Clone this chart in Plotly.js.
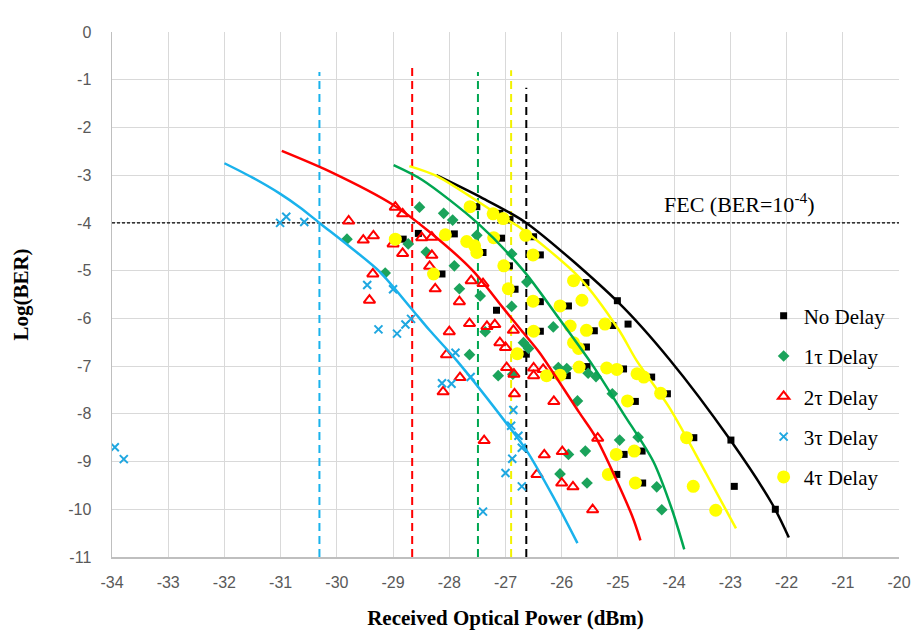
<!DOCTYPE html>
<html>
<head>
<meta charset="utf-8">
<script src="https://cdn.plot.ly/plotly-3.0.1.min.js"></script>
<style>html,body{margin:0;padding:0;background:#fff;}#chart{width:917px;height:636px;}</style>
</head>
<body>
<div id="chart"></div>
<script>
// ---- Measured data ----
const seriesNames = ["No Delay", "1\u03c4 Delay", "2\u03c4 Delay", "3\u03c4 Delay", "4\u03c4 Delay"];

const xTickVals = [-34,-33,-32,-31,-30,-29,-28,-27,-26,-25,-24,-23,-22,-21,-20];
const xTickText = ["-34","-33","-32","-31","-30","-29","-28","-27","-26","-25","-24","-23","-22","-21","-20"];
const yTickVals = [0,-1,-2,-3,-4,-5,-6,-7,-8,-9,-10,-11];
const yTickText = ["0","-1","-2","-3","-4","-5","-6","-7","-8","-9","-10","-11"];

const noDelayX = [-27.51,-27.10,-26.92,-28.55,-28.82,-27.91,-27.07,-26.50,-27.40,-26.38,-26.93,-28.13,-26.83,-27.16,-25.57,-26.38,-25.88,-25.01,-26.38,-25.09,-24.82,-25.42,-25.56,-26.63,-25.55,-25.90,-26.15,-24.90,-24.40,-24.12,-24.69,-23.65,-24.57,-24.89,-25.02,-24.56,-22.99,-22.93,-22.20];
const noDelayY = [-3.66,-3.80,-3.93,-4.22,-4.34,-4.23,-4.32,-4.29,-4.62,-4.67,-4.90,-5.07,-5.39,-5.83,-5.25,-5.65,-5.74,-5.63,-6.27,-6.15,-6.12,-6.26,-6.60,-6.75,-7.01,-7.20,-7.19,-7.06,-7.23,-7.58,-7.74,-8.50,-8.78,-8.85,-9.27,-9.45,-8.55,-9.52,-10.00];

const delay1X = [-29.82,-28.53,-28.10,-27.94,-28.73,-28.41,-27.51,-27.91,-29.14,-27.82,-26.89,-27.45,-26.62,-26.89,-27.36,-26.68,-27.64,-27.13,-26.87,-26.15,-26.59,-26.06,-25.91,-25.53,-25.39,-25.72,-25.10,-24.97,-24.64,-25.58,-25.88,-26.03,-25.55,-24.31,-24.22];
const delay1Y = [-4.34,-3.67,-3.80,-3.94,-4.44,-4.61,-4.26,-4.90,-5.05,-5.38,-4.65,-5.53,-5.24,-5.75,-6.28,-6.51,-6.76,-7.20,-7.17,-6.18,-6.63,-7.03,-7.05,-7.15,-7.22,-7.73,-7.58,-8.55,-8.49,-8.78,-8.85,-9.26,-9.45,-9.53,-10.01];

const delay2X = [-29.79,-29.53,-29.35,-28.96,-28.83,-29.00,-28.83,-28.49,-28.31,-28.31,-28.35,-28.25,-29.36,-29.42,-27.61,-27.40,-27.82,-27.64,-27.33,-27.19,-28.00,-26.86,-27.10,-27.00,-28.05,-27.81,-28.11,-26.98,-26.85,-26.84,-26.50,-26.50,-26.33,-26.14,-27.38,-25.36,-26.31,-25.99,-26.44,-26.00,-25.80,-25.45];
const delay2Y = [-3.96,-4.36,-4.27,-3.67,-3.81,-4.44,-4.64,-4.31,-4.30,-4.68,-4.91,-5.38,-5.07,-5.62,-5.21,-5.27,-5.65,-6.11,-6.17,-6.13,-6.28,-6.25,-6.51,-6.61,-6.76,-7.24,-7.54,-7.03,-7.17,-7.58,-7.04,-7.20,-7.07,-7.74,-8.56,-8.51,-8.86,-8.79,-9.27,-9.45,-9.53,-10.01];

const delay3X = [-31.01,-30.90,-30.58,-33.95,-33.79,-29.46,-29.00,-29.26,-28.93,-28.78,-28.68,-27.89,-28.13,-27.96,-27.62,-26.86,-26.90,-26.77,-26.71,-26.88,-27.00,-26.71,-27.40];
const delay3Y = [-4.00,-3.87,-3.98,-8.70,-8.95,-5.30,-5.39,-6.23,-6.32,-6.13,-6.01,-6.72,-7.36,-7.37,-7.23,-7.92,-8.25,-8.46,-8.71,-8.94,-9.24,-9.52,-10.05];

const delay4X = [-27.63,-27.22,-27.04,-28.96,-28.07,-27.69,-27.55,-27.51,-27.21,-26.64,-26.51,-27.03,-28.28,-26.95,-26.51,-26.50,-26.79,-25.79,-25.64,-26.03,-25.23,-25.56,-25.85,-25.79,-25.70,-25.69,-26.27,-26.03,-25.20,-25.02,-24.66,-24.54,-24.24,-24.83,-23.78,-25.03,-24.71,-25.17,-24.69,-23.66,-23.26];
const delay4Y = [-3.66,-3.81,-3.91,-4.34,-4.25,-4.39,-4.48,-4.62,-4.31,-4.26,-4.67,-4.90,-5.07,-5.38,-5.64,-6.27,-6.74,-5.21,-5.62,-5.74,-6.12,-6.25,-6.16,-6.51,-6.63,-7.02,-7.20,-7.19,-7.04,-7.07,-7.16,-7.23,-7.57,-7.73,-8.50,-8.85,-8.78,-9.27,-9.45,-9.52,-10.02];

// fitted trend curves
const fitNoDelayX = [-28.23,-27.46,-26.63,-24.98,-24.09,-23.00,-22.25,-21.96];
const fitNoDelayY = [-3.00,-3.45,-4.00,-5.68,-6.85,-8.55,-9.90,-10.59];
const fit1X = [-28.99,-28.48,-27.50,-26.68,-26.05,-25.44,-24.90,-24.37,-24.04,-23.82];
const fit1Y = [-2.79,-3.10,-4.00,-5.00,-6.00,-7.00,-8.00,-9.00,-10.00,-10.84];
const fit2X = [-30.98,-30.13,-29.00,-28.35,-27.59,-27.05,-26.72,-26.40,-25.69,-25.39,-24.75,-24.60];
const fit2Y = [-2.49,-2.92,-3.62,-4.19,-4.99,-5.77,-6.25,-6.71,-7.97,-8.50,-10.13,-10.65];
const fit3X = [-32.00,-31.50,-31.02,-30.65,-30.31,-29.77,-29.24,-28.65,-28.35,-27.87,-26.93,-26.63,-26.15,-25.72];
const fit3Y = [-2.75,-3.05,-3.38,-3.68,-4.00,-4.50,-5.02,-5.83,-6.25,-6.88,-8.28,-8.76,-9.74,-10.71];
const fit4X = [-28.71,-28.22,-27.06,-26.75,-25.69,-24.98,-24.67,-24.09,-23.43,-22.90];
const fit4Y = [-2.81,-3.02,-3.88,-4.09,-5.14,-6.25,-6.88,-7.86,-9.25,-10.40];

// FEC crossing markers (vertical dashed lines)
const crossX = [-26.63, -27.49, -28.66, -30.31, -26.90];
const crossTop = [-1.17, -0.84, -0.75, -0.84, -0.80];
const crossBottom = -11;
const fecLevel = -4;
const xRange = [-34, -20];
const yRange = [-11, 0];

// ---- Styling ----
const colors = ["#000000", "#1BA35B", "#FF0000", "#1FA7E0", "#FFFF00"];
const lineColors = ["#000000", "#00A651", "#FF0000", "#1AB2EC", "#FFFF00"];
const dashColors = ["#000000", "#00A651", "#FF0000", "#1AB2EC", "#F2F200"];

const pts = [[noDelayX, noDelayY],[delay1X, delay1Y],[delay2X, delay2Y],[delay3X, delay3Y],[delay4X, delay4Y]];
const fits = [[fitNoDelayX, fitNoDelayY],[fit1X, fit1Y],[fit2X, fit2Y],[fit3X, fit3Y],[fit4X, fit4Y]];
const markers = [
  {symbol:"square", size:7, color:colors[0]},
  {symbol:"diamond", size:9, color:colors[1]},
  {symbol:"triangle-up-open", size:10, color:colors[2], line:{color:colors[2], width:2}},
  {symbol:"x-thin", size:8, color:colors[3], line:{color:colors[3], width:2}},
  {symbol:"circle", size:13, color:colors[4]}
];

const traces = [];
traces.push({x: xRange, y: [fecLevel, fecLevel], mode:"lines", showlegend:false, hoverinfo:"skip",
  line:{color:"#000000", width:1.2, dash:"3px,2px"}});
for (let i = 0; i < 5; i++) {
  traces.push({x:[crossX[i], crossX[i]], y:[crossBottom, crossTop[i]], mode:"lines", showlegend:false, hoverinfo:"skip",
    line:{color:dashColors[i], width:2, dash:"8px,5px"}});
}
for (let i = 0; i < 5; i++) {
  traces.push({x:pts[i][0], y:pts[i][1], mode:"markers", name:seriesNames[i], legendgroup:"g"+i,
    marker:markers[i]});
}
for (let i = 0; i < 5; i++) {
  traces.push({x:fits[i][0], y:fits[i][1], mode:"lines", showlegend:false, hoverinfo:"skip",
    line:{color:lineColors[i], width:2.5, shape:"spline", smoothing:0.8}});
}

const tickFont = {family:"Liberation Sans, Arial, sans-serif", size:16, color:"#595959"};
const serif = "Liberation Serif, Times New Roman, serif";

const layout = {
  width:917, height:636,
  margin:{l:112, r:18, t:32, b:79},
  paper_bgcolor:"#ffffff", plot_bgcolor:"#ffffff",
  showlegend:true,
  xaxis:{range:xRange, tickmode:"array", tickvals:xTickVals, ticktext:xTickText, showgrid:true, gridcolor:"#d9d9d9", gridwidth:1,
    zeroline:false, showline:true, linecolor:"#bfbfbf", linewidth:1.5, ticks:"", tickfont:tickFont,
    ticklabelstandoff:10,
    title:{text:"<b>Received Optical Power (dBm)</b>", font:{family:serif, size:21, color:"#000"}, standoff:20}},
  yaxis:{range:yRange, tickmode:"array", tickvals:yTickVals, ticktext:yTickText, showgrid:true, gridcolor:"#d9d9d9", gridwidth:1,
    zeroline:false, showline:true, linecolor:"#bfbfbf", linewidth:1.5, ticks:"", tickfont:tickFont,
    ticklabelstandoff:16,
    title:{text:"<b>Log(BER)</b>", font:{family:serif, size:21, color:"#000"}, standoff:34}},
  legend:{x:0.828, y:0.498, xanchor:"left", yanchor:"top", bgcolor:"rgba(255,255,255,0)",
    font:{family:serif, size:21, color:"#000"}, traceorder:"grouped", tracegroupgap:10, itemwidth:30},
  annotations:[{x:-24.22, y:-3.58, xref:"x", yref:"y", xanchor:"left", yanchor:"middle", showarrow:false,
    text:"FEC (BER=10<sup>-4</sup>)", font:{family:serif, size:22, color:"#000"}}]
};

Plotly.newPlot("chart", traces, layout, {displayModeBar:false, staticPlot:true});
</script>
</body>
</html>
